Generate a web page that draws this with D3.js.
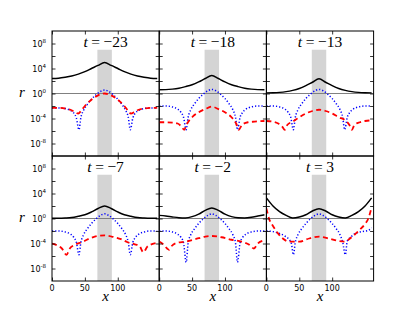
<!DOCTYPE html>
<html>
<head>
<meta charset="utf-8">
<script src="https://cdn.jsdelivr.net/npm/d3@7"></script>
<style>
  body { margin: 0; background: #fff; }
</style>
</head>
<body>
<script>
var W = 415;
var H = 312;

// panel time labels
var times = [-23, -18, -13, -7, -2, 3];

// black curve, log10(r) sampled at gridX
var gridX = [0, 10, 20, 30, 40, 50, 60, 70, 80, 90, 100, 110, 120, 130, 140, 150, 160];
var blackLog = [
  [2.4, 2.45, 2.6, 2.8, 3.1, 3.5, 4.0, 4.5, 4.95, 4.5, 4.0, 3.5, 3.1, 2.8, 2.6, 2.45, 2.4],
  [0.6, 0.62, 0.7, 0.85, 1.1, 1.4, 1.85, 2.4, 2.9, 2.4, 1.85, 1.4, 1.1, 0.85, 0.7, 0.62, 0.6],
  [0.1, 0.12, 0.18, 0.3, 0.5, 0.8, 1.25, 1.8, 2.35, 1.8, 1.25, 0.8, 0.5, 0.3, 0.18, 0.12, 0.1],
  [0.05, 0.05, 0.08, 0.15, 0.35, 0.6, 1.05, 1.6, 2.0, 1.6, 1.05, 0.6, 0.35, 0.15, 0.08, 0.05, 0.05],
  [0.5, 0.4, 0.25, 0.13, 0.1, 0.3, 0.7, 1.3, 1.7, 1.3, 0.7, 0.3, 0.12, 0.1, 0.2, 0.4, 0.6],
  [3.3, 2.0, 1.1, 0.5, 0.1, 0.25, 0.6, 1.2, 1.55, 1.2, 0.6, 0.25, 0.1, 0.5, 1.1, 2.0, 3.3]
];

// blue dotted curve, [x, log10(r)]
var blueLog = [
  [[0,-2.3],[10,-2.3],[20,-2.4],[28,-2.7],[33,-3.1],[37,-3.9],[41,-5.8],[44,-3.8],[48,-2.7],[54,-1.7],[60,-0.9],[67,-0.2],[74,0.35],[80,0.55],[86,0.35],[93,-0.2],[100,-0.9],[106,-1.7],[112,-2.7],[116,-3.8],[119,-5.8],[123,-3.9],[127,-3.1],[132,-2.7],[140,-2.4],[150,-2.3],[160,-2.3]],
  [[0,-2.0],[10,-2.0],[20,-2.15],[28,-2.5],[33,-3.0],[37,-3.8],[41,-5.8],[44,-3.8],[48,-2.6],[54,-1.6],[60,-0.8],[67,-0.1],[74,0.45],[80,0.65],[86,0.45],[93,-0.1],[100,-0.8],[106,-1.6],[112,-2.6],[116,-3.8],[119,-5.8],[123,-3.8],[127,-3.0],[132,-2.5],[140,-2.15],[150,-2.0],[160,-2.0]],
  [[0,-2.0],[10,-2.0],[20,-2.15],[28,-2.5],[33,-3.0],[37,-3.8],[41,-5.8],[44,-3.8],[48,-2.6],[54,-1.6],[60,-0.8],[67,-0.1],[74,0.45],[80,0.65],[86,0.45],[93,-0.1],[100,-0.8],[106,-1.6],[112,-2.6],[116,-3.8],[119,-5.8],[123,-3.8],[127,-3.0],[132,-2.5],[140,-2.15],[150,-2.0],[160,-2.0]],
  [[0,-2.0],[10,-2.0],[20,-2.15],[28,-2.5],[33,-3.0],[37,-3.8],[41,-5.8],[44,-3.8],[48,-2.6],[54,-1.6],[60,-0.8],[67,-0.05],[74,0.5],[80,0.75],[86,0.5],[93,-0.05],[100,-0.8],[106,-1.6],[112,-2.6],[116,-3.8],[119,-5.8],[123,-3.8],[127,-3.0],[132,-2.5],[140,-2.15],[150,-2.0],[160,-2.0]],
  [[0,-2.0],[10,-2.0],[20,-2.15],[28,-2.5],[33,-3.0],[37,-3.9],[41,-7.0],[44,-3.9],[48,-2.6],[54,-1.6],[60,-0.8],[67,-0.05],[74,0.5],[80,0.75],[86,0.5],[93,-0.05],[100,-0.8],[106,-1.6],[112,-2.6],[116,-3.9],[119,-7.0],[123,-3.9],[127,-3.0],[132,-2.5],[140,-2.15],[150,-2.0],[160,-2.0]],
  [[0,-2.0],[10,-2.1],[20,-2.4],[28,-2.8],[34,-3.3],[38,-4.0],[41,-5.8],[44,-3.8],[48,-2.6],[54,-1.6],[60,-0.8],[67,-0.05],[74,0.5],[80,0.75],[86,0.5],[93,-0.05],[100,-0.8],[106,-1.6],[112,-2.6],[116,-3.8],[120,-5.8],[123,-3.6],[129,-2.9],[135,-2.4],[145,-2.1],[155,-1.9],[160,-1.5]]
];

// red dashed curve, [x, log10(r)]
var redLog = [
  [[0,-2.3],[10,-2.3],[20,-2.4],[28,-2.6],[34,-2.9],[40,-3.2],[44,-2.8],[50,-2.0],[60,-1.0],[70,-0.3],[80,0.0],[90,-0.3],[100,-1.0],[110,-2.0],[116,-2.8],[120,-3.2],[126,-2.9],[132,-2.6],[140,-2.4],[150,-2.3],[160,-2.3]],
  [[0,-4.6],[10,-4.6],[20,-4.65],[28,-4.8],[33,-5.2],[38,-5.8],[42,-4.9],[50,-3.8],[60,-3.0],[70,-2.5],[80,-2.1],[90,-2.5],[100,-3.0],[110,-3.8],[117,-4.8],[121,-5.8],[126,-5.0],[135,-4.6],[145,-4.5],[160,-4.4]],
  [[0,-4.4],[10,-4.5],[18,-4.8],[24,-5.3],[28,-5.8],[32,-5.0],[40,-4.5],[50,-3.8],[60,-3.2],[70,-2.8],[80,-2.6],[90,-2.8],[100,-3.2],[110,-3.8],[120,-4.3],[126,-5.0],[130,-5.8],[134,-5.0],[142,-4.6],[150,-4.4],[160,-4.3]],
  [[0,-4.0],[8,-4.3],[15,-4.8],[22,-5.8],[27,-4.8],[35,-4.2],[45,-3.8],[55,-3.3],[65,-2.9],[80,-2.7],[95,-3.0],[105,-3.3],[115,-3.8],[125,-4.1],[133,-4.4],[139,-5.4],[145,-4.5],[152,-4.1],[160,-3.9]],
  [[0,-3.7],[7,-4.2],[12,-4.8],[15,-5.0],[19,-4.4],[27,-3.9],[40,-3.7],[55,-3.3],[70,-2.9],[80,-2.8],[95,-3.0],[110,-3.4],[125,-3.7],[137,-4.2],[144,-4.8],[150,-4.0],[160,-3.5]],
  [[0,1.6],[5,-0.3],[10,-1.2],[17,-2.3],[25,-3.2],[35,-3.7],[50,-3.7],[65,-3.2],[80,-2.9],[95,-3.2],[110,-3.6],[120,-3.7],[127,-3.2],[134,-2.6],[142,-1.8],[149,-1.0],[155,0.0],[160,1.8]]
];

var bandX = [69, 91];
var bandTop = 1e7;
var yLabelPowers = [8, 4, 0, -4, -8];
var yTickPowers = [-8, -6, -4, -2, 0, 2, 4, 6, 8];
var xTicks = [0, 50, 100];

var colLeft = [52, 159.2, 266.4];
var rowTop = [31, 156];
var pw = 107.2;
var ph = 125;

var svg = d3.select("body")
            .append("svg")
              .attr("width", W)
              .attr("height", H);

svg.append("rect")
   .attr("width", W)
   .attr("height", H)
   .attr("fill", "#fff");

var x = d3.scaleLinear().domain([0, 163]).range([0, pw]);
var y = d3.scaleLog().domain([1e-10, 1e10]).range([ph, 0]);

var line = d3.line()
             .x(function(d) { return x(d[0]); })
             .y(function(d) { return y(Math.pow(10, d[1])); })
             .curve(d3.curveMonotoneX);

times.forEach(function(t, i) {
  var col = i % 3;
  var row = Math.floor(i / 3);
  var g = svg.append("g")
             .attr("transform", "translate(" + colLeft[col] + "," + rowTop[row] + ")");

  g.append("clipPath")
     .attr("id", "clip" + i)
   .append("rect")
     .attr("width", pw)
     .attr("height", ph);

  var inner = g.append("g").attr("clip-path", "url(#clip" + i + ")");

  inner.append("rect")
       .attr("x", x(bandX[0]))
       .attr("width", x(bandX[1]) - x(bandX[0]))
       .attr("y", y(bandTop))
       .attr("height", ph - y(bandTop))
       .attr("fill", "#d4d4d4");

  inner.append("line")
       .attr("x1", 0)
       .attr("x2", pw)
       .attr("y1", y(1))
       .attr("y2", y(1))
       .attr("stroke", "#808080")
       .attr("stroke-width", 1);

  var blackPts = gridX.map(function(v, k) { return [v, blackLog[i][k]]; });

  inner.append("path")
       .attr("d", line(blackPts))
       .attr("fill", "none")
       .attr("stroke", "#000")
       .attr("stroke-width", 1.5);

  inner.append("path")
       .attr("d", line(blueLog[i]))
       .attr("fill", "none")
       .attr("stroke", "#0000ff")
       .attr("stroke-width", 1.5)
       .attr("stroke-dasharray", "1.2,2");

  inner.append("path")
       .attr("d", line(redLog[i]))
       .attr("fill", "none")
       .attr("stroke", "#ff0000")
       .attr("stroke-width", 1.8)
       .attr("stroke-dasharray", "5,3.5");

  // inside ticks on all four sides
  var yt = yTickPowers.map(function(p) { return Math.pow(10, p); });
  g.append("g")
     .call(d3.axisLeft(y).tickValues(yt).tickSize(-3.5).tickFormat(""));
  g.append("g")
     .attr("transform", "translate(" + pw + ",0)")
     .call(d3.axisRight(y).tickValues(yt).tickSize(-3.5).tickFormat(""));
  g.append("g")
     .attr("transform", "translate(0," + ph + ")")
     .call(d3.axisBottom(x).tickValues(xTicks).tickSize(-3.5).tickFormat(""));
  g.append("g")
     .call(d3.axisTop(x).tickValues(xTicks).tickSize(-3.5).tickFormat(""));
  g.selectAll(".domain").remove();
  g.selectAll(".tick line").attr("stroke", "#000").attr("stroke-width", 0.8);

  g.append("rect")
     .attr("width", pw)
     .attr("height", ph)
     .attr("fill", "none")
     .attr("stroke", "#000")
     .attr("stroke-width", 1);

  // title
  var title = g.append("text")
               .attr("x", pw / 2)
               .attr("y", 15.7)
               .attr("text-anchor", "middle")
               .attr("font-family", "'Liberation Serif', serif")
               .attr("font-size", "15.5px")
               .attr("fill", "#000");
  title.append("tspan").attr("font-style", "italic").text("t");
  title.append("tspan").attr("dx", 3.5).text("=");
  title.append("tspan").attr("dx", 3.5).text((t < 0 ? "\u2212" : "") + Math.abs(t));

  if (col === 0) {
    yLabelPowers.forEach(function(p) {
      var lab = g.append("text")
                 .attr("x", -6)
                 .attr("y", y(Math.pow(10, p)) + 3.2)
                 .attr("text-anchor", "end")
                 .attr("font-family", "'DejaVu Sans', sans-serif")
                 .attr("font-size", "8px")
                 .attr("fill", "#000");
      lab.append("tspan").text("10");
      lab.append("tspan")
         .attr("dy", -3.5)
         .attr("font-size", "5.5px")
         .text(p < 0 ? "-" + Math.abs(p) : p);
    });
    g.append("text")
       .attr("x", -30)
       .attr("y", y(1) + 3.5)
       .attr("text-anchor", "middle")
       .attr("font-family", "'Liberation Serif', serif")
       .attr("font-style", "italic")
       .attr("font-size", "15px")
       .text("r");
  }

  if (row === 1) {
    g.selectAll(".xlab")
       .data(xTicks)
       .enter()
       .append("text")
         .attr("x", function(d) { return x(d); })
         .attr("y", ph + 9.5)
         .attr("text-anchor", "middle")
         .attr("font-family", "'DejaVu Sans', sans-serif")
         .attr("font-size", "8px")
         .text(function(d) { return d; });
    g.append("text")
       .attr("x", pw / 2)
       .attr("y", ph + 19.5)
       .attr("text-anchor", "middle")
       .attr("font-family", "'Liberation Serif', serif")
       .attr("font-style", "italic")
       .attr("font-size", "15px")
       .text("x");
  }
});
</script>
</body>
</html>
